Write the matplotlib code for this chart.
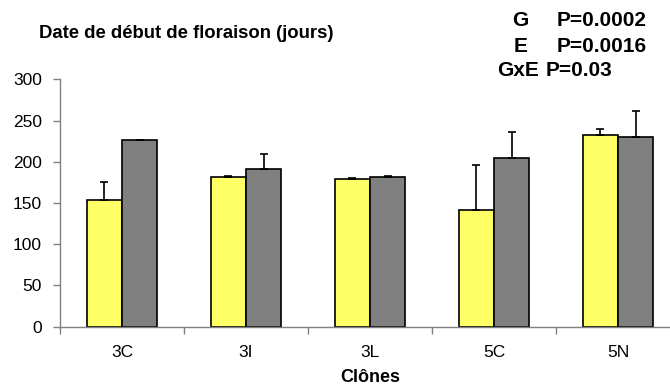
import matplotlib
matplotlib.use("Agg")
import matplotlib.pyplot as plt
import numpy as np

plt.rcParams['font.family'] = ['Liberation Sans', 'DejaVu Sans']

clones = ["3C", "3I", "3L", "5C", "5N"]
yellow_vals = [154, 182, 179, 142, 233]
yellow_err = [22, 0.5, 1.5, 54, 7]
gray_vals = [226, 191, 182, 205, 230]
gray_err = [0, 19, 0.5, 31, 32]
y_ticks = [0, 50, 100, 150, 200, 250, 300]

fig = plt.figure(figsize=(6.7, 3.86), dpi=100)
ax = fig.add_axes([60 / 670, 59.3 / 386, 620 / 670, 247.4 / 386])

x = np.arange(len(clones))
w = 0.286
err_kw = dict(ecolor="black", elinewidth=1.2, capsize=3, capthick=1.2)
ax.bar(x - w / 2, yellow_vals, w, color="#FFFF66", edgecolor="black", linewidth=1.2,
       yerr=[np.zeros(len(x)), yellow_err], error_kw=err_kw, zorder=2)
ax.bar(x + w / 2, gray_vals, w, color="#808080", edgecolor="black", linewidth=1.2,
       yerr=[np.zeros(len(x)), gray_err], error_kw=err_kw, zorder=2)

ax.set_xlim(-0.5, len(clones) - 0.5)
ax.set_ylim(0, 300)
ax.set_yticks(y_ticks)
ax.tick_params(axis="y", direction="out", length=5, width=1, color="#808080",
               labelsize=12.5, pad=8)

# category boundaries carry the tick marks, names sit at the centres
ax.set_xticks(np.arange(len(clones) + 1) - 0.5)
ax.set_xticklabels([])
ax.set_xticks(x, minor=True)
ax.set_xticklabels(clones, minor=True)
ax.tick_params(axis="x", which="major", direction="out", length=5, width=1, color="#808080")
ax.tick_params(axis="x", which="minor", length=0, labelsize=12.5, pad=13)

for s in ["top", "right"]:
    ax.spines[s].set_visible(False)
for s in ["left", "bottom"]:
    ax.spines[s].set_color("#808080")
    ax.spines[s].set_linewidth(1)

ax.set_xlabel("Clônes", fontsize=13, fontweight="bold", va="center")
ax.xaxis.set_label_coords((370 - 60) / 620, -(377 - 326.7) / 247.4)

fig.text(186 / 670, 1 - 33 / 386, "Date de début de floraison (jours)", fontsize=13.3,
         fontweight="bold", ha="center", va="center")

effects = ["G", "E", "GxE"]
p_values = ["P=0.0002", "P=0.0016", "P=0.03"]
rows_y = [21, 46, 71]
eff_x = [512, 514, 497]
p_x = [557, 557, 546]
for e, p, yy, ex, px in zip(effects, p_values, rows_y, eff_x, p_x):
    fig.text(ex / 670, 1 - yy / 386, e, fontsize=15, fontweight="bold", ha="left", va="center")
    fig.text(px / 670, 1 - yy / 386, p, fontsize=15, fontweight="bold", ha="left", va="center")

fig.savefig("out.png", dpi=100)
